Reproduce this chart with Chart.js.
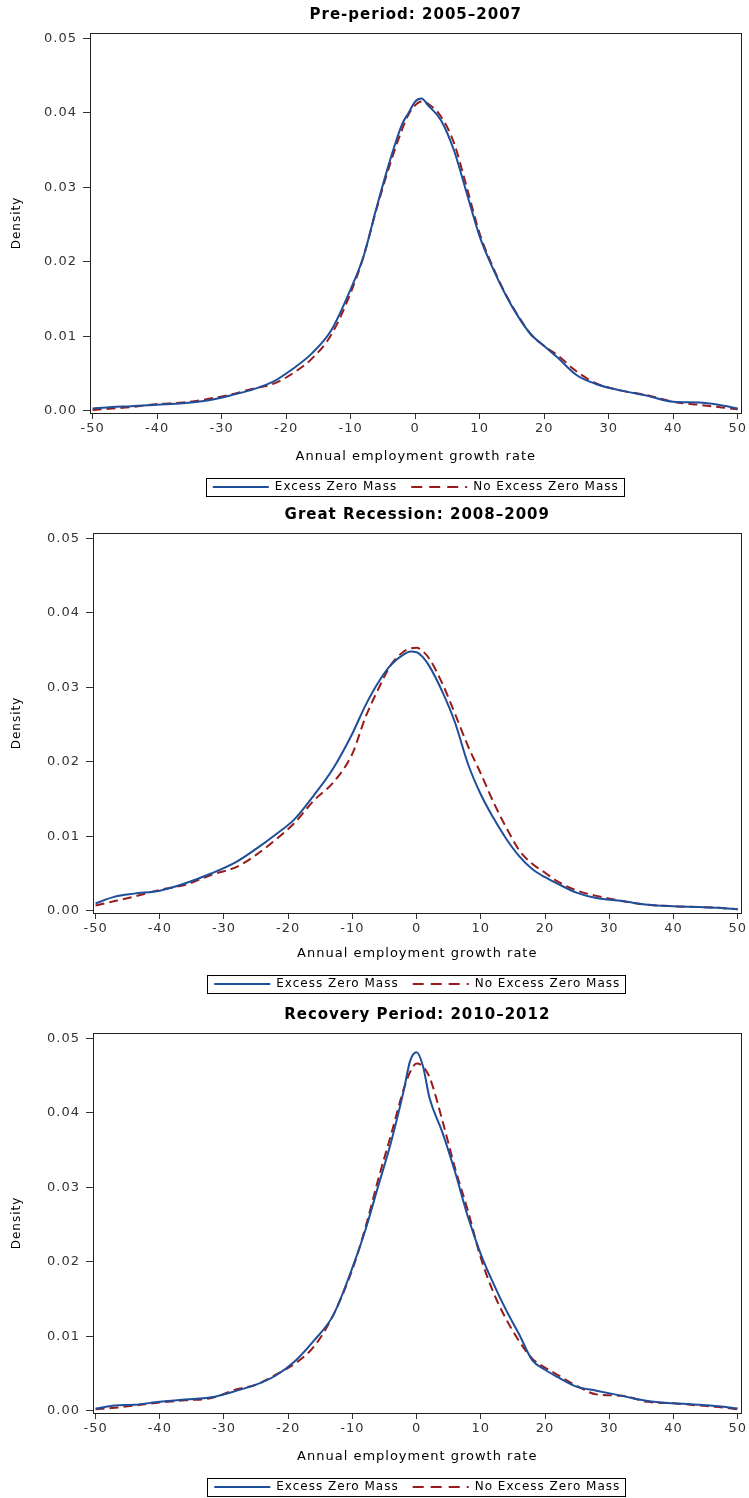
<!DOCTYPE html>
<html><head><meta charset="utf-8">
<script src="https://cdn.jsdelivr.net/npm/chart.js@4.4.1/dist/chart.umd.min.js"></script>
<style>
html,body{margin:0;padding:0;background:#fff;overflow:hidden;width:749px;height:1498px}
.p{position:absolute;left:0;width:749px}
</style></head><body>
<div class="p" style="top:0;height:503px"><canvas id="c1"></canvas></div>
<div class="p" style="top:500px;height:500px"><canvas id="c2"></canvas></div>
<div class="p" style="top:1000px;height:503px"><canvas id="c3"></canvas></div>
<script>
// ---- data ----
const growthRate = [-50,-47,-44,-40,-36,-32,-28,-25,-22,-19,-16,-13,-10,-8,-6,-4,-2,-1,0,1,2,4,6,8,10,12,14,16,18,20,22,25,28,32,36,40,44,47,50];
const xTicks = [-50,-40,-30,-20,-10,0,10,20,30,40,50];
const yTicks = [0,0.01,0.02,0.03,0.04,0.05];
const seriesNames = ['Excess Zero Mass','No Excess Zero Mass'];
const panelTitles = ['Pre-period: 2005\u20132007','Great Recession: 2008\u20132009','Recovery Period: 2010\u20132012'];
const xTitle = 'Annual employment growth rate';
const yTitle = 'Density';

const preExcess = [0.0003,0.0005,0.0006,0.0008,0.0010,0.0014,0.0022,0.0029,0.0039,0.0056,0.0077,0.0108,0.0163,0.0207,0.0272,0.0333,0.0385,0.0400,0.0415,0.0419,0.0410,0.0390,0.0350,0.0292,0.0234,0.0192,0.0156,0.0126,0.0102,0.0087,0.0072,0.0048,0.0036,0.0027,0.0020,0.0012,0.0011,0.0008,0.0003];
const preNoExcess = [0.0001,0.0003,0.0005,0.0009,0.0011,0.0016,0.0023,0.0030,0.0036,0.0050,0.0070,0.0102,0.0158,0.0207,0.0270,0.0328,0.0378,0.0398,0.0410,0.0415,0.0412,0.0395,0.0360,0.0300,0.0238,0.0194,0.0157,0.0127,0.0102,0.0087,0.0075,0.0053,0.0037,0.0027,0.0021,0.0012,0.0008,0.0005,0.0002];
const recessionExcess = [0.0010,0.0019,0.0023,0.0027,0.0037,0.0050,0.0066,0.0083,0.0102,0.0123,0.0155,0.0191,0.0238,0.0275,0.0306,0.0330,0.0344,0.0348,0.0347,0.0340,0.0328,0.0294,0.0252,0.0197,0.0156,0.0124,0.0096,0.0073,0.0056,0.0045,0.0036,0.0024,0.0017,0.0013,0.0008,0.0006,0.0005,0.0004,0.0002];
const recessionNoExcess = [0.0007,0.0013,0.0019,0.0028,0.0035,0.0048,0.0059,0.0075,0.0095,0.0118,0.0148,0.0172,0.0211,0.0259,0.0297,0.0330,0.0348,0.0352,0.0353,0.0348,0.0338,0.0305,0.0264,0.0221,0.0184,0.0145,0.0111,0.0081,0.0063,0.0051,0.0039,0.0027,0.0020,0.0013,0.0008,0.0006,0.0005,0.0004,0.0002];
const recoveryExcess = [0.0003,0.0007,0.0008,0.0012,0.0015,0.0018,0.0027,0.0035,0.0047,0.0066,0.0094,0.0128,0.0192,0.0242,0.0301,0.0360,0.0430,0.0470,0.0481,0.0462,0.0420,0.0374,0.0320,0.0260,0.0210,0.0170,0.0134,0.0102,0.0068,0.0055,0.0045,0.0032,0.0027,0.0020,0.0013,0.0010,0.0008,0.0006,0.0003];
const recoveryNoExcess = [0.0002,0.0004,0.0007,0.0011,0.0014,0.0017,0.0029,0.0035,0.0048,0.0063,0.0086,0.0128,0.0190,0.0245,0.0310,0.0370,0.0432,0.0455,0.0466,0.0462,0.0448,0.0390,0.0325,0.0268,0.0205,0.0158,0.0122,0.0093,0.0070,0.0058,0.0048,0.0033,0.0022,0.0020,0.0012,0.0010,0.0007,0.0005,0.0002];

// ---- style / layout ----
const F = "'DejaVu Sans', sans-serif";
const BLUE = '#1F4E9A', RED = '#981C1C';
const panels = [
  {id:'c1', title:panelTitles[0], a:preExcess, b:preNoExcess, yw:90, right:5, xh:54},
  {id:'c2', title:panelTitles[1], a:recessionExcess, b:recessionNoExcess, yw:93, right:3, xh:51},
  {id:'c3', title:panelTitles[2], a:recoveryExcess, b:recoveryNoExcess, yw:93, right:3, xh:54}
];

const spacing = {
  id:'spacing',
  beforeUpdate(c){ c.ctx.letterSpacing = '1px'; },
  beforeDraw(c){ c.ctx.letterSpacing = '1px'; }
};
const frame = {
  id:'frame',
  afterDatasetsDraw(c){
    const {ctx, chartArea:a} = c;
    ctx.save(); ctx.strokeStyle = '#222'; ctx.lineWidth = 1;
    ctx.strokeRect(Math.round(a.left)+0.5, Math.round(a.top)+0.5, Math.round(a.right-a.left)-1, Math.round(a.bottom-a.top));
    ctx.restore();
  },
  afterDraw(c){
    const lg = c.legend; if (!lg || !lg.legendHitBoxes.length) return;
    const hb = lg.legendHitBoxes;
    let l = Infinity, r = -Infinity, t = hb[0].top, h = hb[0].height;
    hb.forEach(b => { l = Math.min(l, b.left); r = Math.max(r, b.left + b.width); });
    const ctx = c.ctx; ctx.save(); ctx.strokeStyle = '#000'; ctx.lineWidth = 1;
    ctx.strokeRect(Math.round(l - 7)+0.5, Math.round(t + h/2 - 9)+0.5, Math.round(r - l + 12), 18);
    ctx.restore();
  }
};

const legendLabels = chart => Chart.defaults.plugins.legend.labels.generateLabels(chart).map((l, i) => {
  const ds = chart.data.datasets[i];
  return Object.assign(l, {lineDash: ds.borderDash ? [11,7] : [], lineWidth: 2, strokeStyle: ds.borderColor});
});

panels.forEach(p => {
  const mk = arr => growthRate.map((x,i) => ({x, y: arr[i]}));
  new Chart(document.getElementById(p.id), {
    type:'line',
    data:{datasets:[
      {label:seriesNames[0], data:mk(p.a), borderColor:BLUE, backgroundColor:BLUE, borderWidth:2, cubicInterpolationMode:'monotone', pointRadius:0, fill:false},
      {label:seriesNames[1], data:mk(p.b), borderColor:RED, backgroundColor:RED, borderWidth:2, borderDash:[9,5], cubicInterpolationMode:'monotone', pointRadius:0, fill:false}
    ]},
    options:{
      responsive:true, maintainAspectRatio:false, animation:false, events:[],
      layout:{padding:{left:0,right:p.right,top:0,bottom:0}},
      plugins:{
        title:{display:true, fullSize:false, text:p.title, color:'#000', font:{family:F,size:15,weight:'bold'}, padding:{top:6,bottom:9}},
        legend:{position:'bottom', fullSize:false, labels:{usePointStyle:true, pointStyle:'line', pointStyleWidth:56, color:'#000', font:{family:F,size:12}, padding:14, generateLabels:legendLabels}},
        tooltip:{enabled:false}
      },
      scales:{
        x:{type:'linear', min:-50.4, max:50.6,
           afterBuildTicks:s => { s.ticks = xTicks.map(v => ({value:v})); },
           afterFit:s => { s.height = p.xh; },
           grid:{display:true, drawOnChartArea:false, drawTicks:true, tickLength:6, color:'#333'},
           border:{display:false},
           ticks:{color:'#333', font:{family:F,size:13}, padding:2, maxRotation:0, autoSkip:false, callback:v => String(v)},
           title:{display:true, text:xTitle, color:'#000', font:{family:F,size:13}, padding:{top:0,bottom:3}}},
        y:{type:'linear', min:-0.0003, max:0.0507,
           afterBuildTicks:s => { s.ticks = yTicks.map(v => ({value:v})); },
           afterFit:s => { s.width = p.yw; },
           grid:{display:true, drawOnChartArea:false, drawTicks:true, tickLength:7, color:'#333'},
           border:{display:false},
           ticks:{color:'#333', font:{family:F,size:13}, padding:6, callback:v => v.toFixed(2)},
           title:{display:true, text:yTitle, color:'#000', font:{family:F,size:12}, padding:{top:10,bottom:0}}}
      }
    },
    plugins:[spacing, frame]
  });
});
</script>
</body></html>
